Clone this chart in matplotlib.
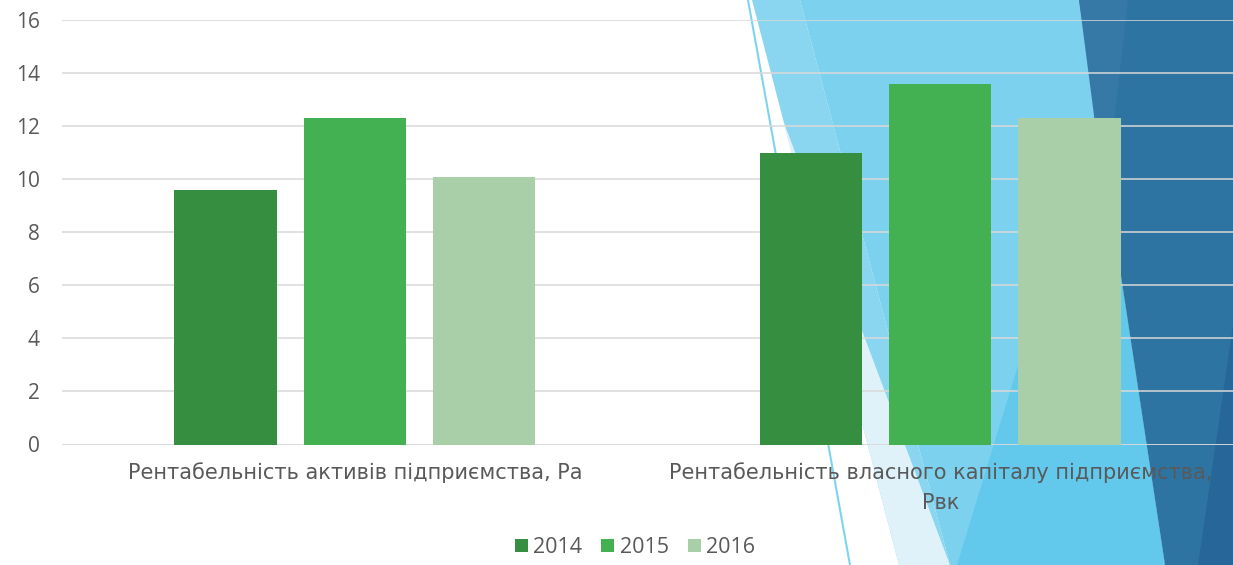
import numpy as np
import matplotlib
matplotlib.use('Agg')
from matplotlib import pyplot as plt
from matplotlib.patches import Polygon

plt.rcParams['font.family'] = ['Open Sans', 'DejaVu Sans']

# data
categories = ['Рентабельність активів підприємства, Ра',
              'Рентабельність власного капіталу підприємства,\nРвк']
years = ['2014', '2015', '2016']
values_2014 = [9.6, 11.0]
values_2015 = [12.3, 13.6]
values_2016 = [10.1, 12.3]
colors = ['#368F41', '#43B052', '#A8CFA8']

W, H = 1233, 565
fig = plt.figure(figsize=(W / 100, H / 100), dpi=100)
fig.patch.set_facecolor('white')


def px(points):
    # pixel coords (top-left origin) -> figure fraction
    return [(x / W, 1 - y / H) for x, y in points]


# decorative background shapes on the right (slide theme)
shapes = [
    ([(752, 0), (800, 0), (950, 565), (899, 565)], '#8AD5F0'),
    ([(783, 120), (950, 565), (899, 565)], '#DFF2FA'),
    ([(800, 0), (1079, 0), (1165, 565), (950, 565)], '#7CD1EE'),
    ([(1096, 110), (1165, 565), (957, 565)], '#63C9EC'),
    ([(1079, 0), (1233, 0), (1233, 565), (1165, 565)], '#2E74A3'),
    ([(1079, 0), (1128, 0), (1105, 200)], '#3679A6'),
    ([(1198, 565), (1233, 565), (1233, 325)], '#276699'),
]
for pts, c in shapes:
    fig.add_artist(Polygon(px(pts), closed=True, facecolor=c, edgecolor='none',
                           transform=fig.transFigure, zorder=-2))
line_pts = px([(748, 0), (850, 565)])
fig.add_artist(plt.Line2D([line_pts[0][0], line_pts[1][0]], [line_pts[0][1], line_pts[1][1]],
                          color='#7FD3F0', lw=1.5, transform=fig.transFigure, zorder=-1))

ax = fig.add_axes([62 / W, 1 - 444.5 / H, 1 - 62 / W, (444.5 - 20) / H])
ax.set_facecolor('none')

x = np.arange(len(categories))
step = 0.221
width = 0.175
series = [values_2014, values_2015, values_2016]
for i, (vals, yr) in enumerate(zip(series, years)):
    ax.bar(x + (i - 1) * step, vals, width, color=colors[i], label=yr, zorder=3)

ax.set_xlim(-0.5, 1.5)
ax.set_ylim(0, 16)
ax.set_yticks(range(0, 17, 2))
ax.yaxis.grid(True, color='#D9D9D9', lw=1.1, zorder=1)
ax.set_axisbelow(True)
for s in ax.spines.values():
    s.set_visible(False)
ax.axhline(0, color='#D9D9D9', lw=1.1, zorder=2)

ax.set_xticks(x)
ax.set_xticklabels(categories, family=['DejaVu Sans'], fontsize=15, linespacing=1.6)
ax.tick_params(axis='x', length=0, pad=13, labelcolor='#595959')
ax.tick_params(axis='y', length=0, pad=16, labelsize=15, labelcolor='#595959')

leg = fig.legend(loc='lower center', bbox_to_anchor=(0.515, -0.022), ncol=3, frameon=False,
                 fontsize=15.5, handlelength=0.6, handleheight=0.6, handletextpad=0.25,
                 columnspacing=0.9, labelcolor='#595959')

fig.savefig('out.png', dpi=100)
